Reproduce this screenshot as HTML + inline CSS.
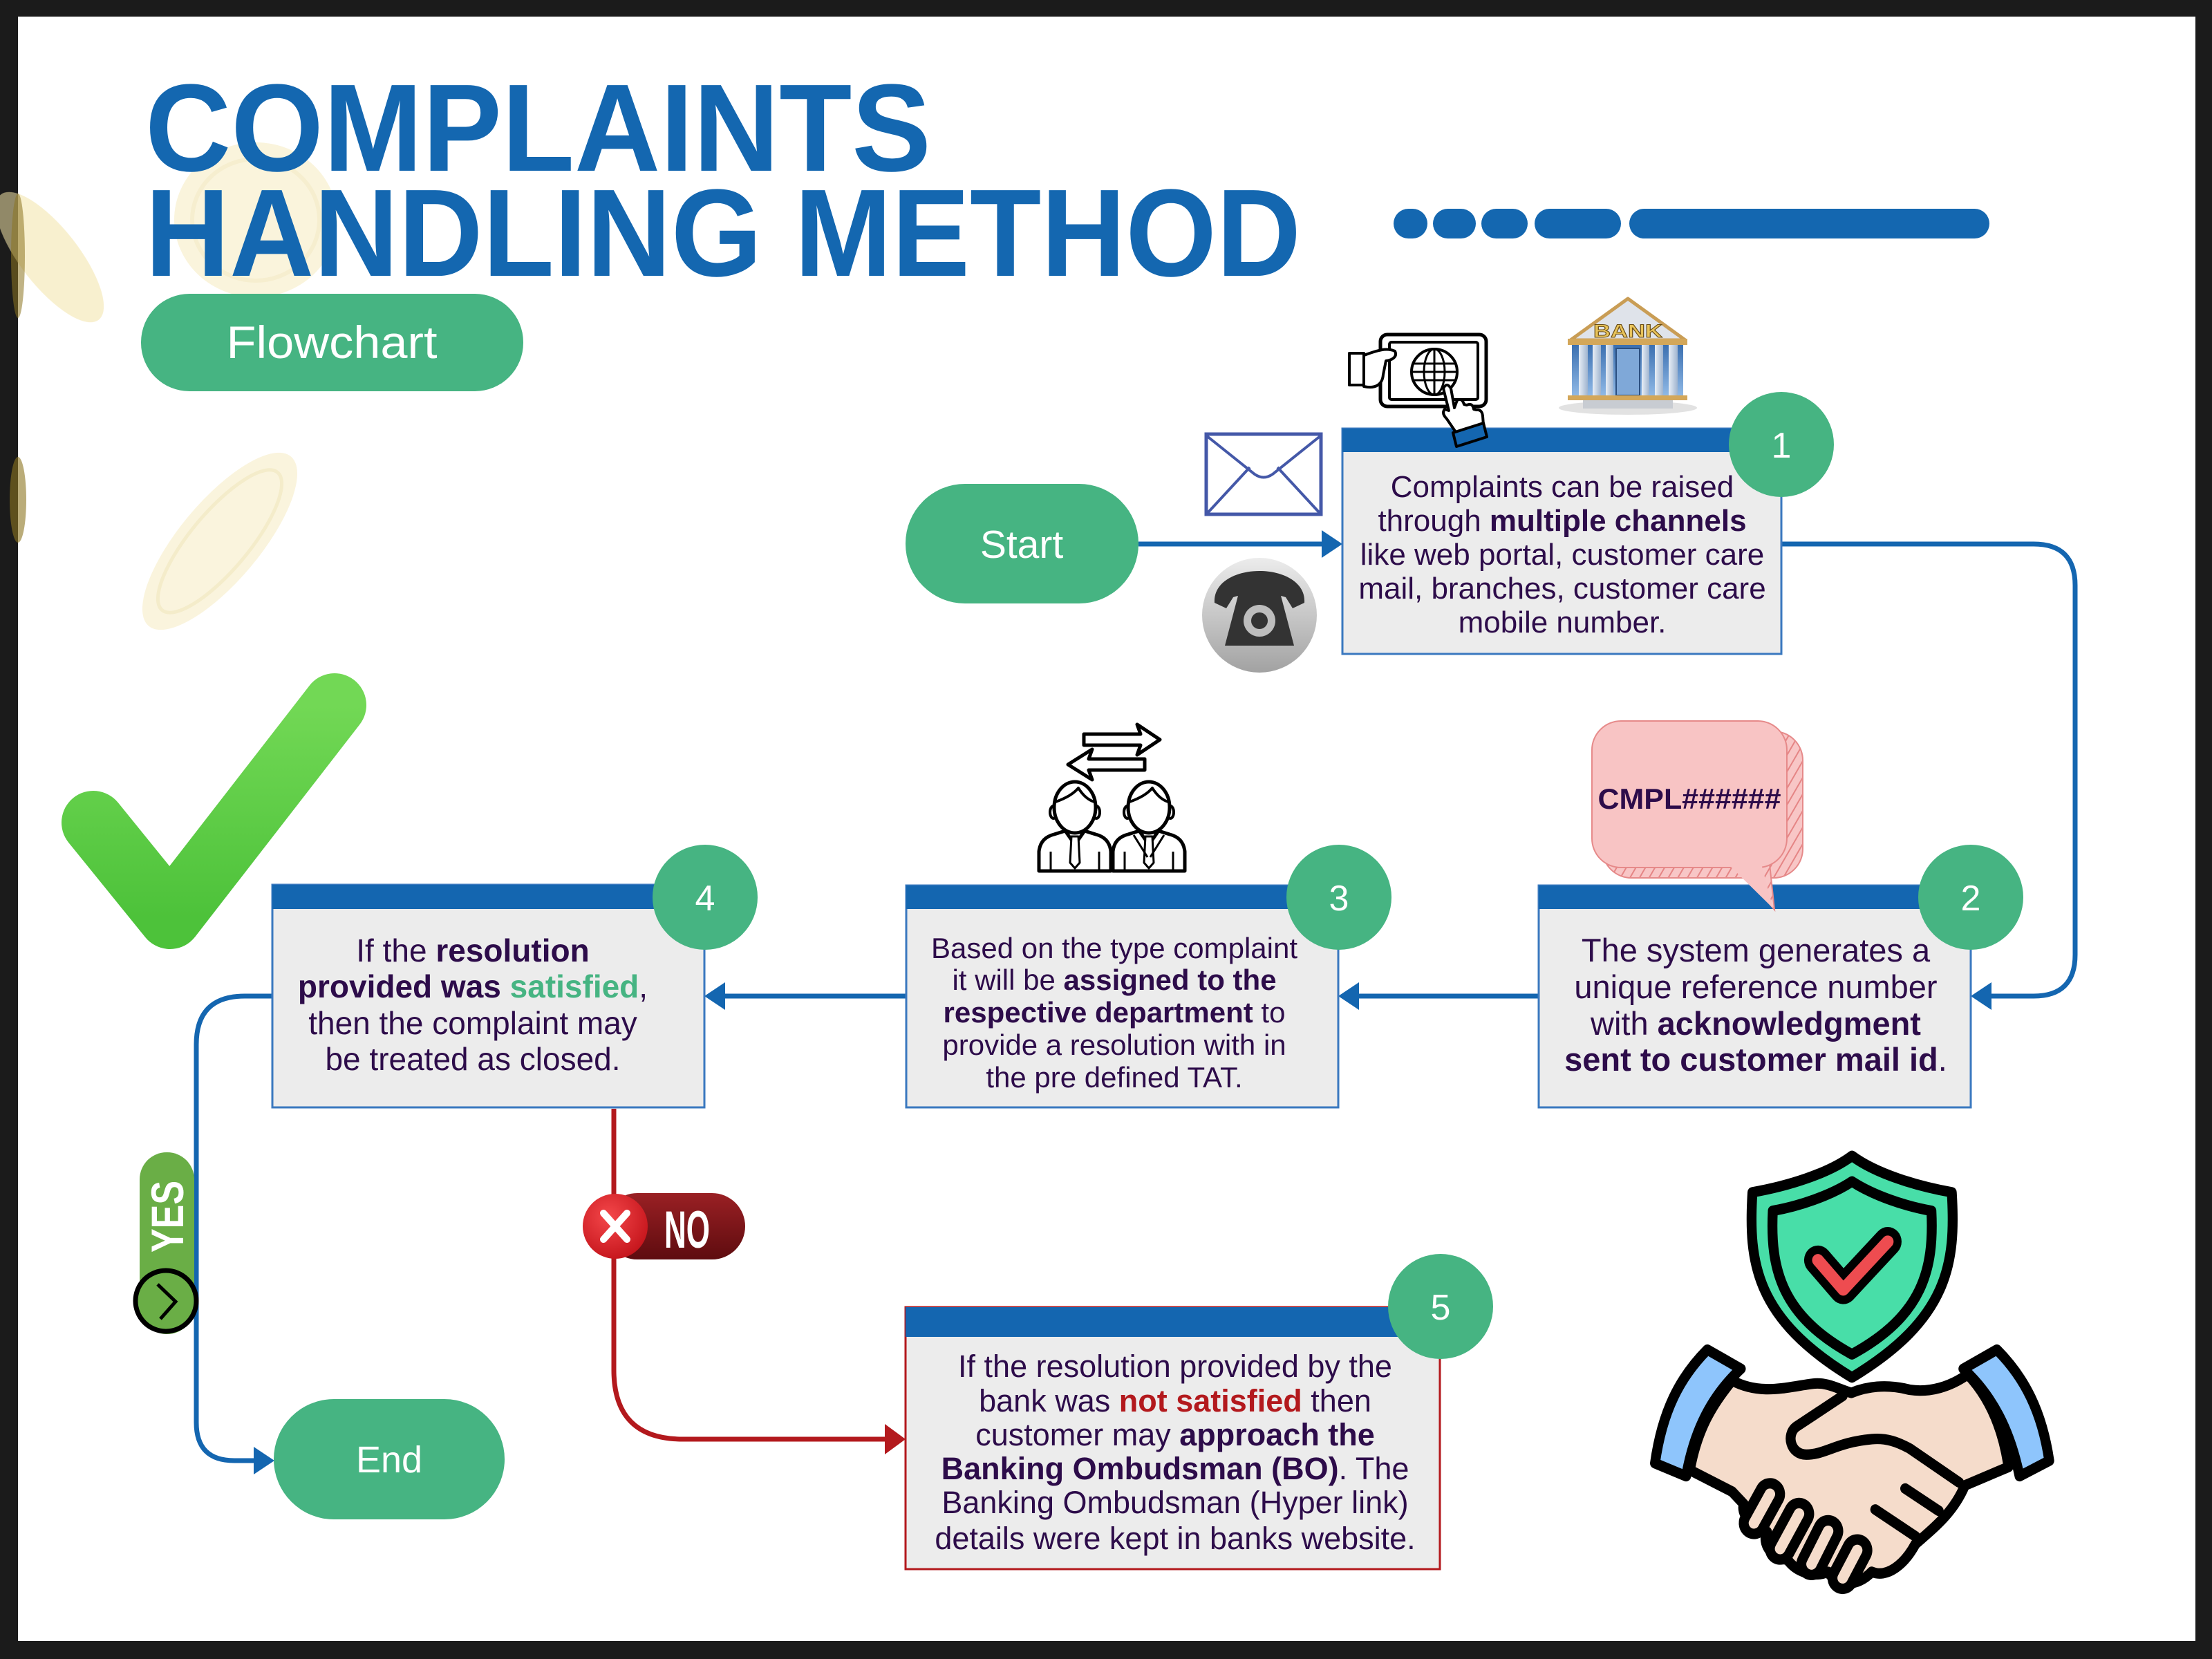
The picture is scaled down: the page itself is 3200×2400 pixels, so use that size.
<!DOCTYPE html>
<html>
<head>
<meta charset="utf-8">
<style>
  html,body{margin:0;padding:0;background:#1b1b1b;}
  body{width:3200px;height:2400px;overflow:hidden;position:relative;}
  svg{position:absolute;left:0;top:0;}
  .t{font-family:"Liberation Sans",sans-serif;fill:#2d0c4a;}
  .b{font-weight:700;}
</style>
</head>
<body>
<svg width="3200" height="2400" viewBox="0 0 3200 2400" xmlns="http://www.w3.org/2000/svg" font-family="'Liberation Sans', sans-serif">
  <defs>
    <linearGradient id="phoneG" x1="0" y1="0" x2="0" y2="1">
      <stop offset="0" stop-color="#ececec"/>
      <stop offset="1" stop-color="#a2a2a2"/>
    </linearGradient>
    <linearGradient id="chkG" x1="0" y1="0" x2="0" y2="1">
      <stop offset="0" stop-color="#72d855"/>
      <stop offset="1" stop-color="#4dc23a"/>
    </linearGradient>
    <radialGradient id="noC" cx="0.4" cy="0.35" r="0.7">
      <stop offset="0" stop-color="#f4474a"/>
      <stop offset="1" stop-color="#c4141b"/>
    </radialGradient>
    <linearGradient id="noP" x1="0" y1="0" x2="0" y2="1">
      <stop offset="0" stop-color="#9a2024"/>
      <stop offset="1" stop-color="#5e0c0f"/>
    </linearGradient>
    <linearGradient id="colG" x1="0" y1="0" x2="1" y2="0">
      <stop offset="0" stop-color="#e8eef6"/>
      <stop offset="1" stop-color="#9fb4cf"/>
    </linearGradient>
    <linearGradient id="glassG" x1="0" y1="0" x2="0" y2="1">
      <stop offset="0" stop-color="#3b6fb0"/>
      <stop offset="1" stop-color="#8fb8e6"/>
    </linearGradient>
    <pattern id="hatch" width="12" height="12" patternUnits="userSpaceOnUse" patternTransform="rotate(30)">
      <rect width="12" height="12" fill="#f8c6c6"/>
      <line x1="1" y1="0" x2="1" y2="12" stroke="#e58585" stroke-width="2"/>
    </pattern>
  </defs>

  <!-- frame -->
  <rect x="0" y="0" width="3200" height="2400" fill="#1b1b1b"/>
  <rect x="26" y="24" width="3150" height="2350" fill="#ffffff"/>

  <!-- decorative faded coins -->
  <g opacity="0.55">
    <ellipse cx="370" cy="318" rx="118" ry="112" fill="#f6ebc0"/>
    <ellipse cx="370" cy="318" rx="92" ry="88" fill="none" stroke="#efe0a8" stroke-width="6"/>
    <ellipse cx="72" cy="372" rx="42" ry="115" transform="rotate(-38 72 372)" fill="#f3e3a8"/>
    <ellipse cx="318" cy="783" rx="58" ry="160" transform="rotate(40 318 783)" fill="#f6ebc2"/>
    <ellipse cx="318" cy="783" rx="42" ry="130" transform="rotate(40 318 783)" fill="none" stroke="#ecdc9e" stroke-width="5"/>
  </g>
  <ellipse cx="26" cy="370" rx="10" ry="90" fill="#8c7420" opacity="0.55"/>
  <ellipse cx="26" cy="723" rx="12" ry="62" fill="#8c7420" opacity="0.6"/>

  <!-- title -->
  <text x="210" y="247" font-size="180" font-weight="700" fill="#1467b0" textLength="1137" lengthAdjust="spacingAndGlyphs">COMPLAINTS</text>
  <text x="210" y="399" font-size="180" font-weight="700" fill="#1467b0" textLength="1672" lengthAdjust="spacingAndGlyphs">HANDLING METHOD</text>

  <!-- dots bar -->
  <g fill="#1467b0">
    <rect x="2016" y="302" width="49" height="43" rx="21.5"/>
    <rect x="2073" y="302" width="62" height="43" rx="21.5"/>
    <rect x="2143" y="302" width="67" height="43" rx="21.5"/>
    <rect x="2220" y="302" width="125" height="43" rx="21.5"/>
    <rect x="2357" y="302" width="521" height="43" rx="21.5"/>
  </g>

  <!-- Flowchart pill -->
  <rect x="204" y="425" width="553" height="141" rx="70" fill="#46b482"/>
  <text x="480" y="518" font-size="66" fill="#ffffff" text-anchor="middle" textLength="305" lengthAdjust="spacingAndGlyphs">Flowchart</text>

  <!-- big check mark -->
  <polyline points="135,1190 246,1327 484,1020" fill="none" stroke="url(#chkG)" stroke-width="92" stroke-linecap="round" stroke-linejoin="round"/>

  <!-- connectors blue -->
  <g fill="none" stroke="#1466b0" stroke-width="7">
    <path d="M1647,787 H1916"/>
    <path d="M2577,787 H2942 Q3002,787 3002,847 V1381 Q3002,1441 2942,1441 H2876"/>
    <path d="M2226,1441 H1962"/>
    <path d="M1311,1441 H1045"/>
    <path d="M394,1441 H354 Q284,1441 284,1511 V2058 Q284,2113 339,2113 H372"/>
  </g>
  <g fill="#1466b0">
    <polygon points="1912,767 1942,787 1912,807"/>
    <polygon points="2881,1421 2851,1441 2881,1461"/>
    <polygon points="1966,1421 1936,1441 1966,1461"/>
    <polygon points="1049,1421 1019,1441 1049,1461"/>
    <polygon points="367,2093 397,2113 367,2133"/>
  </g>
  <!-- connector red -->
  <path d="M888,1604 V1982 Q888,2082 988,2082 H1284" fill="none" stroke="#b3191d" stroke-width="7"/>
  <polygon points="1280,2060 1310,2082 1280,2104" fill="#b3191d"/>

  <!-- Start / End -->
  <rect x="1310" y="700" width="337" height="173" rx="86" fill="#46b482"/>
  <text x="1478" y="807" font-size="57" fill="#ffffff" text-anchor="middle">Start</text>
  <rect x="396" y="2024" width="334" height="174" rx="87" fill="#46b482"/>
  <text x="563" y="2130" font-size="54" fill="#ffffff" text-anchor="middle">End</text>

  <!-- Box 1 -->
  <rect x="1942" y="620" width="635" height="326" fill="#ececec" stroke="#3a78bf" stroke-width="3"/>
  <rect x="1942" y="620" width="635" height="34" fill="#1466b0"/>
  <g class="t" font-size="44" text-anchor="middle">
    <text x="2260" y="719">Complaints can be raised</text>
    <text x="2260" y="768">through <tspan class="b">multiple channels</tspan></text>
    <text x="2260" y="817">like web portal, customer care</text>
    <text x="2260" y="866">mail, branches, customer care</text>
    <text x="2260" y="915">mobile number.</text>
  </g>

  <!-- Box 2 -->
  <rect x="2226" y="1281" width="625" height="321" fill="#ececec" stroke="#3a78bf" stroke-width="3"/>
  <rect x="2226" y="1281" width="625" height="34" fill="#1466b0"/>
  <g class="t" font-size="47" text-anchor="middle">
    <text x="2540" y="1391">The system generates a</text>
    <text x="2540" y="1444">unique reference number</text>
    <text x="2540" y="1497">with <tspan class="b">acknowledgment</tspan></text>
    <text x="2540" y="1549"><tspan class="b">sent to customer mail id</tspan>.</text>
  </g>

  <!-- Box 3 -->
  <rect x="1311" y="1281" width="625" height="321" fill="#ececec" stroke="#3a78bf" stroke-width="3"/>
  <rect x="1311" y="1281" width="625" height="34" fill="#1466b0"/>
  <g class="t" font-size="42" text-anchor="middle">
    <text x="1612" y="1386">Based on the type complaint</text>
    <text x="1612" y="1432">it will be <tspan class="b">assigned to the</tspan></text>
    <text x="1612" y="1479"><tspan class="b">respective department</tspan> to</text>
    <text x="1612" y="1526">provide a resolution with in</text>
    <text x="1612" y="1573">the pre defined TAT.</text>
  </g>

  <!-- Box 4 -->
  <rect x="394" y="1280" width="625" height="322" fill="#ececec" stroke="#3a78bf" stroke-width="3"/>
  <rect x="394" y="1280" width="625" height="35" fill="#1466b0"/>
  <g class="t" font-size="46" text-anchor="middle">
    <text x="684" y="1391">If the <tspan class="b">resolution</tspan></text>
    <text x="684" y="1443"><tspan class="b">provided was </tspan><tspan class="b" fill="#46b482">satisfied</tspan>,</text>
    <text x="684" y="1496">then the complaint may</text>
    <text x="684" y="1548">be treated as closed.</text>
  </g>

  <!-- Box 5 -->
  <rect x="1310" y="1891" width="773" height="379" fill="#ececec" stroke="#b3191d" stroke-width="3"/>
  <rect x="1310" y="1891" width="773" height="43" fill="#1466b0"/>
  <g class="t" font-size="45" text-anchor="middle">
    <text x="1700" y="1992">If the resolution provided by the</text>
    <text x="1700" y="2042">bank was <tspan class="b" fill="#b3191d">not satisfied</tspan> then</text>
    <text x="1700" y="2091">customer may <tspan class="b">approach the</tspan></text>
    <text x="1700" y="2140"><tspan class="b">Banking Ombudsman (BO)</tspan>. The</text>
    <text x="1700" y="2189">Banking Ombudsman (Hyper link)</text>
    <text x="1700" y="2241">details were kept in banks website.</text>
  </g>

  <!-- number circles -->
  <g fill="#46b482">
    <circle cx="2577" cy="643" r="76"/>
    <circle cx="2851" cy="1298" r="76"/>
    <circle cx="1937" cy="1298" r="76"/>
    <circle cx="1020" cy="1298" r="76"/>
    <circle cx="2084" cy="1890" r="76"/>
  </g>
  <g font-size="52" fill="#ffffff" text-anchor="middle">
    <text x="2577" y="662">1</text>
    <text x="2851" y="1317">2</text>
    <text x="1937" y="1317">3</text>
    <text x="1020" y="1317">4</text>
    <text x="2084" y="1909">5</text>
  </g>

  <!-- envelope -->
  <rect x="1745" y="628" width="166" height="116" fill="#ffffff" stroke="#4458a8" stroke-width="5"/>
  <path d="M1745,630 L1815,686 Q1828,695 1841,686 L1911,630" fill="none" stroke="#4458a8" stroke-width="4"/>
  <path d="M1747,742 L1808,676 M1909,742 L1848,676" fill="none" stroke="#4458a8" stroke-width="4"/>

  <!-- phone -->
  <circle cx="1822" cy="890" r="83" fill="url(#phoneG)"/>
  <path d="M1757,872 C1755,842 1788,826 1822,826 C1856,826 1889,842 1887,872 L1870,880 L1860,864 C1845,858 1799,858 1784,864 L1774,880 Z" fill="#333333"/>
  <path d="M1792,858 L1852,858 L1872,934 L1772,934 Z" fill="#333333"/>
  <circle cx="1822" cy="898" r="23" fill="#bdbdbd"/>
  <circle cx="1822" cy="898" r="12" fill="#333333"/>

  <!-- web portal icon -->
  <g stroke="#000" fill="#fff" stroke-linejoin="round">
    <rect x="1997" y="484" width="153" height="104" rx="10" stroke-width="5"/>
    <rect x="2010" y="495" width="128" height="83" rx="3" stroke-width="4"/>
    <rect x="1952" y="511" width="21" height="46" stroke-width="4"/>
    <path d="M1973,514 C1990,508 2005,502 2018,508 C2022,516 2014,521 2005,522 L2001,542 C2000,556 1990,563 1973,559 Z" stroke-width="4"/>
    <circle cx="2075" cy="538" r="33" stroke-width="4"/>
    <ellipse cx="2075" cy="538" rx="15" ry="33" fill="none" stroke-width="3"/>
    <path d="M2075,505 V571 M2043,526 H2107 M2042,538 H2108 M2043,550 H2107" fill="none" stroke-width="3"/>
    <path d="M2088,562 Q2093,552 2099,562 L2104,590 L2108,579 Q2115,575 2118,585 L2122,586 Q2130,582 2132,592 L2136,593 Q2144,592 2145,602 L2146,615 L2108,628 L2093,606 Q2085,598 2090,592 L2096,594 Z" stroke-width="4"/>
    <polygon points="2102,626 2146,612 2151,632 2107,646" fill="#1466b0" stroke-width="4"/>
  </g>

  <!-- bank -->
  <ellipse cx="2355" cy="590" rx="100" ry="10" fill="#cfcfcf" opacity="0.6"/>
  <polygon points="2355,432 2438,492 2272,492" fill="#dfe3ea" stroke="#c99d55" stroke-width="5" stroke-linejoin="round"/>
  <text x="2355" y="488" font-size="27" font-weight="700" fill="#e8c35a" stroke="#6b4e16" stroke-width="1" text-anchor="middle" textLength="100" lengthAdjust="spacingAndGlyphs">BANK</text>
  <rect x="2268" y="490" width="173" height="9" fill="#d3a75a"/>
  <rect x="2274" y="499" width="161" height="73" fill="url(#glassG)"/>
  <g fill="url(#colG)">
    <rect x="2284" y="499" width="13" height="73"/>
    <rect x="2304" y="499" width="12" height="73"/>
    <rect x="2323" y="499" width="11" height="73"/>
    <rect x="2375" y="499" width="11" height="73"/>
    <rect x="2394" y="499" width="12" height="73"/>
    <rect x="2414" y="499" width="13" height="73"/>
  </g>
  <rect x="2338" y="504" width="34" height="68" fill="#7fa8d8" stroke="#2b4f80" stroke-width="2"/>
  <rect x="2268" y="572" width="173" height="7" fill="#d3a75a"/>
  <rect x="2290" y="579" width="130" height="12" fill="#c8ccd2"/>

  <!-- people icon -->
  <g stroke="#000" fill="#fff" stroke-linejoin="round">
    <polygon points="1568,1062 1650,1062 1645,1048 1678,1070 1645,1092 1650,1078 1568,1078" stroke-width="5"/>
    <polygon points="1656,1098 1575,1098 1580,1084 1545,1106 1580,1128 1575,1114 1656,1114" stroke-width="5"/>
  </g>
  <g stroke="#000" fill="#fff" stroke-width="5" stroke-linejoin="round">
    <path d="M1503,1260 V1232 Q1505,1212 1525,1207 L1541,1202 L1555,1222 L1569,1202 L1585,1207 Q1605,1212 1607,1232 V1260 Z"/>
    <path d="M1550,1210 L1560,1210 L1562,1248 L1555,1256 L1548,1248 Z" stroke-width="3"/>
    <ellipse cx="1524" cy="1175" rx="5" ry="9" stroke-width="4"/>
    <ellipse cx="1586" cy="1175" rx="5" ry="9" stroke-width="4"/>
    <ellipse cx="1555" cy="1168" rx="30" ry="37"/>
    <path d="M1527,1160 Q1550,1152 1560,1140 Q1570,1156 1583,1160" fill="none" stroke-width="4"/>
    <path d="M1610,1260 V1232 Q1612,1212 1632,1207 L1648,1202 L1662,1222 L1676,1202 L1692,1207 Q1712,1212 1714,1232 V1260 Z"/>
    <path d="M1657,1210 L1667,1210 L1669,1248 L1662,1256 L1655,1248 Z" stroke-width="3"/>
    <path d="M1640,1208 L1660,1240 M1684,1208 L1664,1240" fill="none" stroke-width="3"/>
    <ellipse cx="1631" cy="1175" rx="5" ry="9" stroke-width="4"/>
    <ellipse cx="1693" cy="1175" rx="5" ry="9" stroke-width="4"/>
    <ellipse cx="1662" cy="1168" rx="30" ry="37"/>
    <path d="M1634,1160 Q1657,1152 1667,1140 Q1677,1156 1690,1160" fill="none" stroke-width="4"/>
    <path d="M1520,1232 V1260 M1590,1232 V1260 M1627,1232 V1260 M1697,1232 V1260" fill="none" stroke-width="3"/>
  </g>

  <!-- CMPL bubble -->
  <rect x="2318" y="1058" width="290" height="212" rx="42" fill="url(#hatch)" stroke="#e68a8a" stroke-width="2"/>
  <polygon points="2512,1250 2560,1250 2567,1316" fill="url(#hatch)" stroke="#e68a8a" stroke-width="2"/>
  <rect x="2303" y="1043" width="282" height="212" rx="42" fill="#f8c4c4" stroke="#e68a8a" stroke-width="2"/>
  <polygon points="2500,1250 2548,1250 2565,1314" fill="#f8c4c4"/>
  <text x="2444" y="1170" font-size="42" font-weight="700" fill="#2d0c4a" text-anchor="middle" textLength="265" lengthAdjust="spacingAndGlyphs">CMPL######</text>

  <!-- YES badge -->
  <rect x="202" y="1667" width="79" height="263" rx="39" fill="#6aae46"/>
  <text x="0" y="0" font-size="66" font-weight="700" fill="#ffffff" text-anchor="middle" textLength="104" lengthAdjust="spacingAndGlyphs" transform="translate(265,1760) rotate(-90)">YES</text>
  <circle cx="240" cy="1882" r="44" fill="#6aae46" stroke="#000" stroke-width="7"/>
  <polyline points="228,1858 254,1883 232,1908" fill="none" stroke="#000" stroke-width="5"/>

  <!-- NO badge -->
  <rect x="874" y="1726" width="204" height="96" rx="48" fill="url(#noP)"/>
  <circle cx="890" cy="1774" r="47" fill="url(#noC)"/>
  <path d="M873,1755 L907,1793 M907,1755 L873,1793" stroke="#ffffff" stroke-width="10" stroke-linecap="round"/>
  <text x="994" y="1805" font-size="76" font-weight="700" fill="#ffffff" text-anchor="middle" textLength="66" lengthAdjust="spacingAndGlyphs">NO</text>

  <!-- shield + handshake icon -->
  <svg x="2350" y="1640" width="660" height="700" viewBox="0 0 1568 1568" preserveAspectRatio="none">
    <g stroke="#000" stroke-width="34" stroke-linejoin="round" stroke-linecap="round">
      <path d="M782,72 C700,130 560,170 440,190 C425,420 450,600 782,790 C1115,600 1140,420 1125,190 C1005,170 865,130 782,72 Z" fill="#48dea8"/>
      <path d="M782,155 C710,200 600,235 510,250 C500,440 540,590 782,715 C1025,590 1065,440 1055,250 C965,235 855,200 782,155 Z" fill="#48dea8"/>
      <polyline points="665,410 752,505 905,350" fill="none" stroke-width="95"/>
      <polyline points="665,410 752,505 905,350" fill="none" stroke="#ee4c50" stroke-width="40"/>
      <!-- hands body -->
      <path d="M225,1090 C250,960 300,880 370,800 C470,850 560,820 650,810 C700,805 740,830 780,840 C830,820 900,810 980,830 C1050,840 1120,820 1180,780 C1250,850 1300,950 1320,1080 L1170,1140 C1130,1230 1060,1280 1000,1330 C960,1400 900,1440 850,1420 C800,1470 730,1470 700,1420 C650,1440 590,1420 560,1380 C510,1380 470,1330 490,1290 C430,1270 400,1230 410,1200 L370,1160 Z" fill="#f5dccb"/>
      <!-- cuffs -->
      <path d="M105,1068 C130,900 190,790 285,700 L400,762 C300,850 240,960 212,1110 Z" fill="#8ec5fc"/>
      <path d="M1460,1060 C1435,900 1375,790 1280,700 L1165,762 C1265,850 1325,960 1358,1110 Z" fill="#8ec5fc"/>
      <!-- left fingers -->
      <line x1="500" y1="1168" x2="445" y2="1262" stroke-width="104"/>
      <line x1="500" y1="1168" x2="445" y2="1262" stroke="#f5dccb" stroke-width="36"/>
      <line x1="600" y1="1232" x2="535" y2="1345" stroke-width="104"/>
      <line x1="600" y1="1232" x2="535" y2="1345" stroke="#f5dccb" stroke-width="36"/>
      <line x1="700" y1="1288" x2="643" y2="1395" stroke-width="104"/>
      <line x1="700" y1="1288" x2="643" y2="1395" stroke="#f5dccb" stroke-width="36"/>
      <line x1="800" y1="1350" x2="750" y2="1440" stroke-width="104"/>
      <line x1="800" y1="1350" x2="750" y2="1440" stroke="#f5dccb" stroke-width="36"/>
      <!-- thumb / right hand lines -->
      <path d="M750,850 L590,950 C555,975 570,1040 625,1040 C690,1040 730,1000 850,990 C900,985 940,1000 980,1020 L1150,1130" fill="none"/>
      <path d="M965,1150 L1080,1222 M862,1218 L1000,1305" fill="none"/>
    </g>
  </svg>
</svg>
</body>
</html>
